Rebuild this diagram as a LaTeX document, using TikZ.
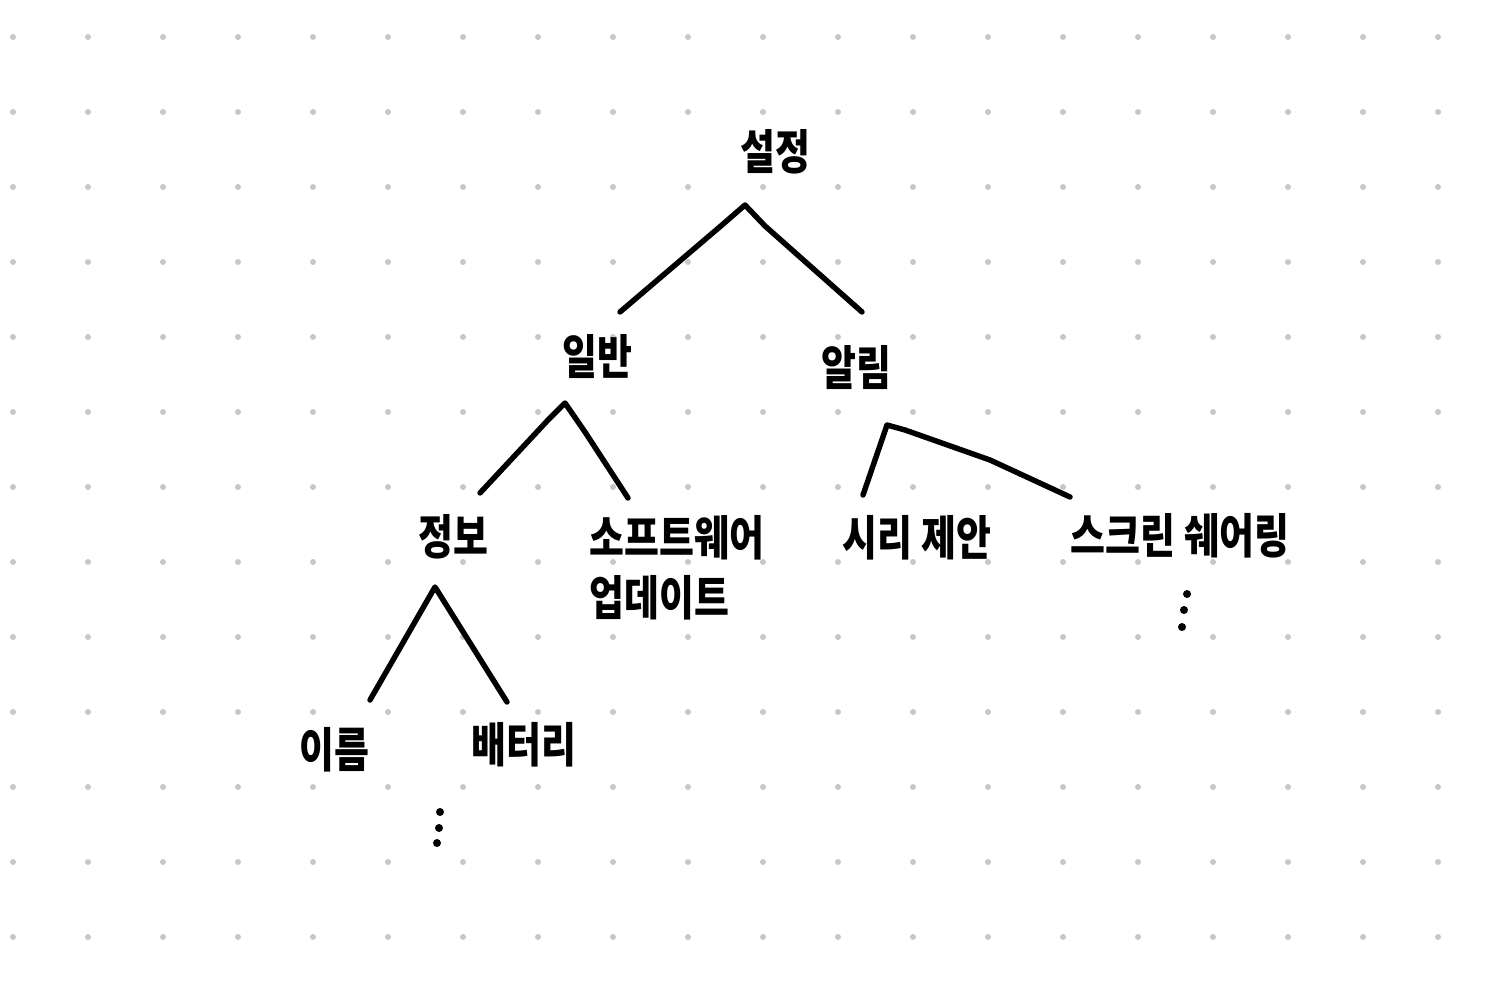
\documentclass[tikz,border=0pt]{standalone}
\usepackage{fontspec}
\newfontfamily\handfont[FakeStretch=0.8]{Noto Sans CJK KR}
\usetikzlibrary{positioning}

\tikzset{
    item/.style={font=\handfont\bfseries\fontsize{27}{34}\selectfont, inner sep=0pt},
    branch/.style={line width=3.1pt, line cap=round, line join=round},
    griddot/.style={fill=black!22, draw=none},
    moredot/.style={fill=black, draw=none}
}

\begin{document}
\begin{tikzpicture}[x=0.02cm, y=-0.02cm]
    \useasboundingbox (0,0) rectangle (1493,989);

    % dotted paper
    \foreach \i in {0,...,19}{
        \foreach \j in {0,...,12}{
            \fill[griddot] (13+75*\i, 37+75*\j) circle (3);
        }
    }

    \node[item] (settings) at (775,152) {설정};
    \node[item] (general) at (597,357) {일반};
    \node[item] (notify) at (856,368) {알림};
    \node[item] (about) at (453,537) {정보};
    \node[item, align=left, anchor=west] (software) at (589,568) {소프트웨어\\업데이트};
    \node[item] (siri) at (917,538) {시리 제안};
    \node[item] (screen) at (1180,536) {스크린 쉐어링};
    \node[item] (name) at (334,750) {이름};
    \node[item] (battery) at (524,745) {배터리};

    % branch points and leg ends
    \coordinate (settings-top) at (745,205);
    \coordinate (settings-l) at (620,312);
    \coordinate (settings-r) at (862,312);
    \coordinate (general-top) at (565,403);
    \coordinate (general-l) at (480,493);
    \coordinate (general-r) at (628,498);
    \coordinate (notify-top) at (887,425);
    \coordinate (notify-l) at (863,495);
    \coordinate (notify-r) at (1070,497);
    \coordinate (about-top) at (435,587);
    \coordinate (about-l) at (370,700);
    \coordinate (about-r) at (507,702);

    \draw[branch] (settings-l) -- (722,225) -- (settings-top) -- (765,226) -- (settings-r);
    \draw[branch] (general-l) -- (548,420) -- (general-top) -- (585,432) -- (general-r);
    \draw[branch] (notify-l) -- (notify-top) -- (905,430) -- (990,460) -- (notify-r);
    \draw[branch] (about-l) -- (about-top) -- (about-r);

    % more items
    \foreach \coord in {{1187,594}, {1184,610}, {1182,627}, {440,812}, {439,828}, {437,843}}{
        \fill[moredot] (\coord) circle (4);
    }
\end{tikzpicture}
\end{document}
